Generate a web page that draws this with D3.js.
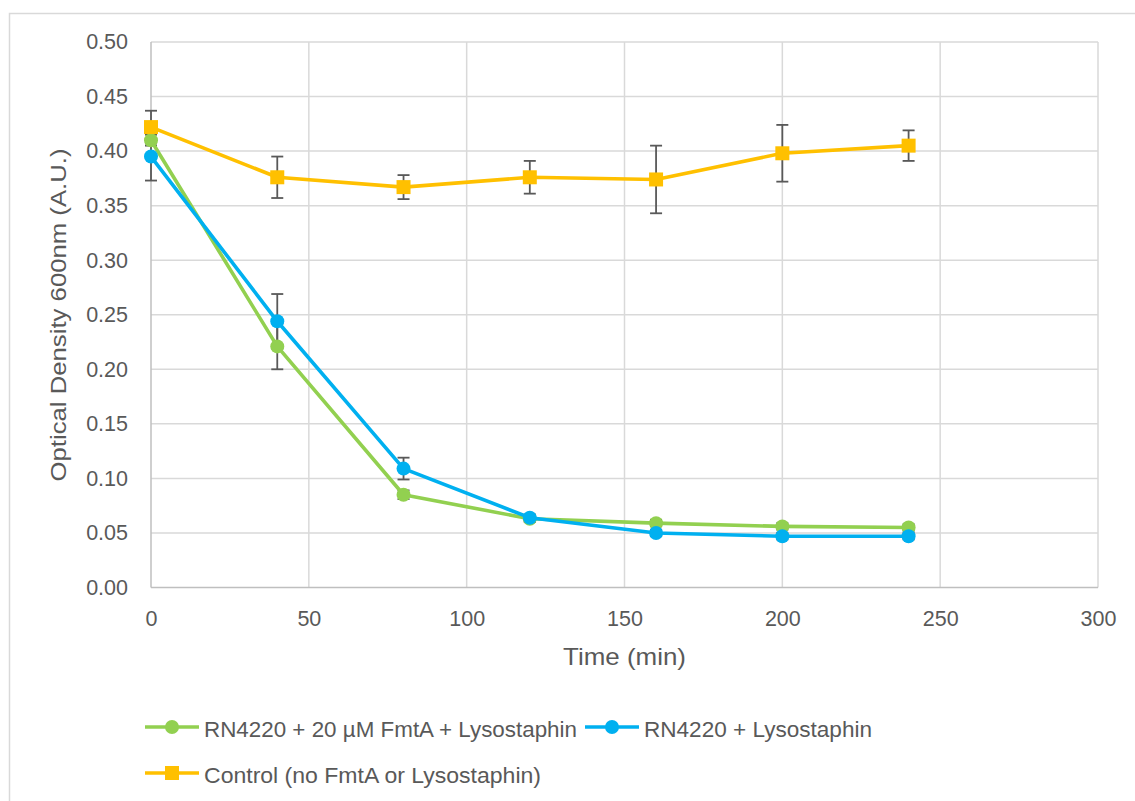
<!DOCTYPE html>
<html><head><meta charset="utf-8">
<script src="https://cdn.jsdelivr.net/npm/d3@7"></script>
<style>body{margin:0;background:#fff;} svg{display:block;}</style>
</head><body>
<svg id="c" width="1135" height="801"></svg>
<script>
const times = [0, 40, 80, 120, 160, 200, 240];
const seriesNames = ["RN4220 + 20 µM FmtA + Lysostaphin", "RN4220 + Lysostaphin", "Control (no FmtA or Lysostaphin)"];
const greenValues = [0.410, 0.221, 0.085, 0.063, 0.059, 0.056, 0.055];
const greenErrors = [0.005, 0.021, 0.004, 0.003, 0.003, 0.003, 0.003];
const blueValues = [0.395, 0.244, 0.109, 0.064, 0.050, 0.047, 0.047];
const blueErrors = [0.022, 0.025, 0.010, 0.003, 0.003, 0.003, 0.003];
const controlValues = [0.422, 0.376, 0.367, 0.376, 0.374, 0.398, 0.405];
const controlErrors = [0.015, 0.019, 0.011, 0.015, 0.031, 0.026, 0.014];
const xTicks = [0, 50, 100, 150, 200, 250, 300];
const yTicks = [0, 0.05, 0.1, 0.15, 0.2, 0.25, 0.3, 0.35, 0.4, 0.45, 0.5];
const xTitle = "Time (min)";
const yTitle = "Optical Density 600nm (A.U.)";

const series = [
  {name: seriesNames[0], values: greenValues, errors: greenErrors, color: "#92D050", marker: "circle"},
  {name: seriesNames[1], values: blueValues, errors: blueErrors, color: "#00B0F0", marker: "circle"},
  {name: seriesNames[2], values: controlValues, errors: controlErrors, color: "#FFC000", marker: "square"}
];

const svg = d3.select("#c");
const font = "'Liberation Sans', Arial, sans-serif";
svg.append("rect").attr("x", 9.5).attr("y", 13.5).attr("width", 1200).attr("height", 900)
  .attr("fill", "#fff").attr("stroke", "#d9d9d9").attr("stroke-width", 1.5);

const L = 151, R = 1098, T = 42, B = 587.5;
const x = d3.scaleLinear().domain([0, 300]).range([L, R]);
const y = d3.scaleLinear().domain([0, 0.5]).range([B, T]);

const g = svg.append("g");
g.selectAll("line.h").data(yTicks.slice(1)).join("line")
  .attr("x1", L).attr("x2", R).attr("y1", d => y(d)).attr("y2", d => y(d))
  .attr("stroke", "#d9d9d9").attr("stroke-width", 1.5);
g.selectAll("line.v").data(xTicks.slice(1)).join("line")
  .attr("y1", T).attr("y2", B).attr("x1", d => x(d)).attr("x2", d => x(d))
  .attr("stroke", "#d9d9d9").attr("stroke-width", 1.5);
g.append("line").attr("x1", L).attr("x2", R).attr("y1", B).attr("y2", B).attr("stroke", "#bfbfbf").attr("stroke-width", 1.5);
g.append("line").attr("x1", L).attr("x2", L).attr("y1", T).attr("y2", B).attr("stroke", "#bfbfbf").attr("stroke-width", 1.5);

const xAxis = svg.append("g").attr("transform", `translate(0,${B})`)
  .call(d3.axisBottom(x).tickValues(xTicks).tickSize(0).tickPadding(23).tickFormat(d3.format("d")));
const yAxis = svg.append("g").attr("transform", `translate(${L},0)`)
  .call(d3.axisLeft(y).tickValues(yTicks).tickSize(0).tickPadding(23).tickFormat(d3.format(".2f")));
[xAxis, yAxis].forEach(a => {
  a.select(".domain").remove();
  a.selectAll("text").attr("font-family", font).attr("font-size", 21.5).attr("fill", "#595959");
});

svg.append("text").attr("x", 624.5).attr("y", 665).attr("text-anchor", "middle")
  .attr("font-family", font).attr("font-size", 24.5).attr("fill", "#595959")
  .attr("textLength", 123).attr("lengthAdjust", "spacingAndGlyphs").text(xTitle);
svg.append("text").attr("transform", `translate(66,315) rotate(-90)`).attr("text-anchor", "middle")
  .attr("font-family", font).attr("font-size", 22).attr("fill", "#595959")
  .attr("textLength", 333).attr("lengthAdjust", "spacingAndGlyphs").text(yTitle);

const eb = svg.append("g").attr("stroke", "#595959").attr("stroke-width", 1.8).attr("fill", "none");
series.forEach(s => {
  s.values.forEach((v, i) => {
    const e = s.errors[i];
    if (!e) return;
    const cx = x(times[i]);
    eb.append("line").attr("x1", cx).attr("x2", cx).attr("y1", y(v + e)).attr("y2", y(v - e));
    eb.append("line").attr("x1", cx - 6).attr("x2", cx + 6).attr("y1", y(v + e)).attr("y2", y(v + e));
    eb.append("line").attr("x1", cx - 6).attr("x2", cx + 6).attr("y1", y(v - e)).attr("y2", y(v - e));
  });
});

const line = d3.line().x((d, i) => x(times[i])).y(d => y(d));
series.forEach(s => {
  svg.append("path").datum(s.values).attr("d", line).attr("fill", "none")
    .attr("stroke", s.color).attr("stroke-width", 3.6).attr("stroke-linejoin", "round");
  const m = svg.append("g");
  if (s.marker === "circle") {
    m.selectAll("circle").data(s.values).join("circle")
      .attr("cx", (d, i) => x(times[i])).attr("cy", d => y(d)).attr("r", 7).attr("fill", s.color);
  } else {
    m.selectAll("rect").data(s.values).join("rect")
      .attr("x", (d, i) => x(times[i]) - 7).attr("y", d => y(d) - 7).attr("width", 14).attr("height", 14).attr("fill", s.color);
  }
});

const legendItems = [
  {s: series[0], lx: 145, ly: 727, tw: 373},
  {s: series[1], lx: 585, ly: 727, tw: 228},
  {s: series[2], lx: 145, ly: 773, tw: 337}
];
const lg = svg.append("g");
legendItems.forEach(it => {
  lg.append("line").attr("x1", it.lx).attr("x2", it.lx + 54).attr("y1", it.ly).attr("y2", it.ly)
    .attr("stroke", it.s.color).attr("stroke-width", 3.6);
  if (it.s.marker === "circle") {
    lg.append("circle").attr("cx", it.lx + 27).attr("cy", it.ly).attr("r", 7).attr("fill", it.s.color);
  } else {
    lg.append("rect").attr("x", it.lx + 20).attr("y", it.ly - 7).attr("width", 14).attr("height", 14).attr("fill", it.s.color);
  }
  lg.append("text").attr("x", it.lx + 59).attr("y", it.ly + 6).attr("dy", "0.2em")
    .attr("font-family", font).attr("font-size", 22).attr("fill", "#595959")
    .attr("textLength", it.tw).attr("lengthAdjust", "spacingAndGlyphs").text(it.s.name);
});
</script>
</body></html>
